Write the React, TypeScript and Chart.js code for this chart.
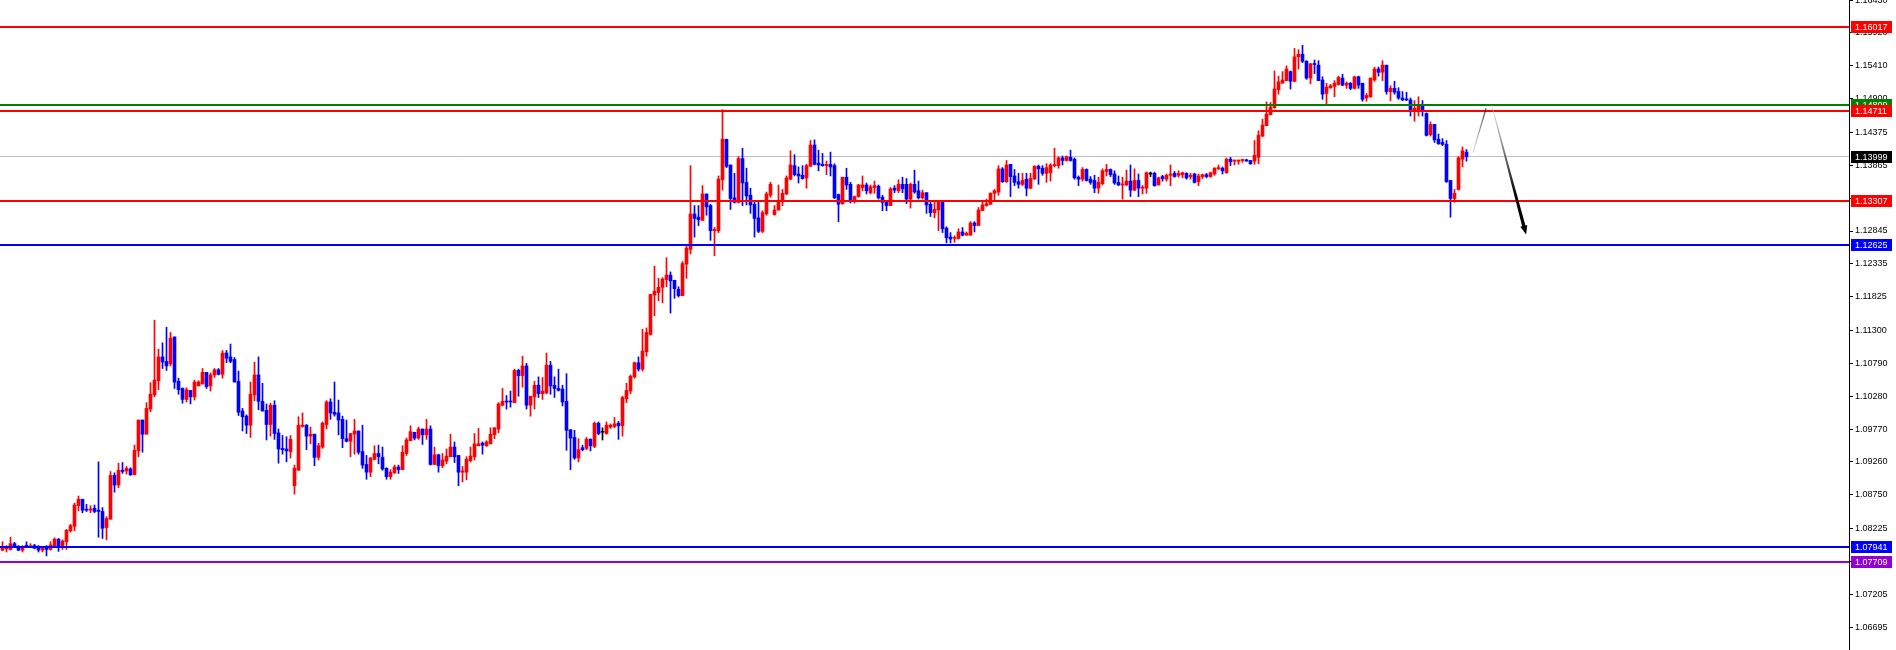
import React, { useEffect, useRef } from "react";
import { Chart, registerables } from "chart.js";

Chart.register(...registerables);

// ---- candle data (EURUSD-like, 367 bars) ----
const opens = [
  1.0789,1.0791,1.0790,1.0799,1.0795,1.0789,1.0796,1.0794,1.0796,1.0795,
  1.0789,1.0795,1.0790,1.0796,1.0806,1.0795,1.0802,1.0819,1.0826,1.0858,
  1.0868,1.0852,1.0851,1.0854,1.0851,1.0849,1.0824,1.0837,1.0905,1.0890,
  1.0913,1.0912,1.0915,1.0906,1.0943,1.0991,1.0969,1.1008,1.1030,1.1052,
  1.1089,1.1082,1.1078,1.1120,1.1051,1.1040,1.1023,1.1037,1.1027,1.1044,
  1.1047,1.1065,1.1044,1.1061,1.1069,1.1062,1.1095,1.1089,1.1085,1.1051,
  1.1005,1.0997,1.0983,1.1030,1.1061,1.1020,1.1006,1.0984,1.1014,1.0971,
  1.0947,1.0946,1.0942,1.0889,1.0913,1.0981,1.0983,1.0966,1.0969,1.0933,
  1.0949,1.0984,1.1019,1.1003,1.1002,1.0992,1.0962,1.0958,1.0969,1.0974,
  1.0942,1.0922,1.0910,1.0930,1.0939,1.0933,1.0916,1.0903,1.0909,1.0918,
  1.0914,1.0939,1.0959,1.0972,1.0963,1.0977,1.0968,1.0977,1.0922,1.0937,
  1.0920,1.0927,1.0934,1.0949,1.0936,1.0910,1.0910,1.0928,1.0934,1.0951,
  1.0955,1.0951,1.0954,1.0968,1.0977,1.1014,1.1020,1.1020,1.1018,1.1068,
  1.1060,1.1075,1.1014,1.1027,1.1045,1.1032,1.1033,1.1076,1.1045,1.1040,
  1.1039,1.1020,1.0976,1.0964,1.0932,1.0948,1.0947,1.0961,1.0950,1.0986,
  1.0972,1.0970,1.0980,1.0981,1.0986,1.0982,1.1024,1.1036,1.1058,1.1080,
  1.1070,1.1097,1.1124,1.1185,1.1189,1.1197,1.1209,1.1216,1.1208,1.1194,
  1.1184,1.1233,1.1256,1.1311,1.1306,1.1301,1.1342,1.1324,1.1285,1.1285,
  1.1364,1.1427,1.1387,1.1336,1.1329,1.1397,1.1360,1.1340,1.1326,1.1305,
  1.1284,1.1311,1.1340,1.1310,1.1317,1.1331,1.1342,1.1365,1.1386,1.1373,
  1.1371,1.1367,1.1385,1.1418,1.1390,1.1388,1.1386,1.1388,1.1386,1.1341,
  1.1327,1.1368,1.1357,1.1330,1.1338,1.1352,1.1356,1.1344,1.1352,1.1354,
  1.1337,1.1329,1.1324,1.1351,1.1347,1.1357,1.1357,1.1334,1.1357,1.1347,
  1.1336,1.1344,1.1326,1.1313,1.1317,1.1329,1.1289,1.1275,1.1273,1.1273,
  1.1283,1.1278,1.1278,1.1297,1.1293,1.1316,1.1324,1.1326,1.1343,1.1345,
  1.1381,1.1361,1.1388,1.1370,1.1361,1.1357,1.1365,1.1351,1.1365,1.1385,
  1.1382,1.1374,1.1375,1.1386,1.1386,1.1398,1.1394,1.1399,1.1396,1.1368,
  1.1365,1.1380,1.1365,1.1363,1.1351,1.1358,1.1377,1.1380,1.1373,1.1360,
  1.1356,1.1356,1.1362,1.1348,1.1363,1.1351,1.1351,1.1373,1.1374,1.1356,
  1.1369,1.1365,1.1371,1.1374,1.1371,1.1372,1.1374,1.1369,1.1373,1.1361,
  1.1369,1.1372,1.1369,1.1373,1.1381,1.1382,1.1375,1.1396,1.1393,1.1393,
  1.1394,1.1395,1.1394,1.1393,1.1399,1.1432,1.1448,1.1465,1.1476,1.1504,
  1.1514,1.1518,1.1532,1.1517,1.1555,1.1559,1.1548,1.1522,1.1544,1.1542,
  1.1519,1.1498,1.1507,1.1509,1.1512,1.1522,1.1511,1.1514,1.1506,1.1524,
  1.1514,1.1491,1.1493,1.1519,1.1536,1.1531,1.1542,1.1501,1.1506,1.1501,
  1.1491,1.1489,1.1488,1.1470,1.1471,1.1479,1.1467,1.1434,1.1450,1.1427,
  1.1422,1.1419,1.1363,1.1335,1.1349,1.1396,1.1407,
];

const highs = [
  1.0802,1.0796,1.0809,1.0801,1.0796,1.0796,1.0802,1.0799,1.0798,1.0796,
  1.0795,1.0796,1.0802,1.0808,1.0807,1.0805,1.0821,1.0829,1.0862,1.0873,
  1.0868,1.0860,1.0858,1.0859,1.0926,1.0855,1.0841,1.0911,1.0909,1.0924,
  1.0925,1.0919,1.0917,1.0952,1.0991,1.0991,1.1018,1.1049,1.1146,1.1101,
  1.1111,1.1135,1.1127,1.1120,1.1056,1.1041,1.1041,1.1037,1.1053,1.1052,
  1.1071,1.1065,1.1064,1.1071,1.1071,1.1099,1.1099,1.1109,1.1088,1.1067,
  1.1009,1.0999,1.1050,1.1081,1.1089,1.1048,1.1016,1.1017,1.1021,1.0977,
  1.0967,1.0965,1.0967,1.0921,1.0996,1.1002,1.0984,1.0980,1.0969,1.0955,
  1.0988,1.1021,1.1024,1.1050,1.1022,1.0997,1.0991,1.0970,1.0992,1.0974,
  1.0983,1.0936,1.0933,1.0951,1.0952,1.0949,1.0917,1.0914,1.0921,1.0921,
  1.0951,1.0963,1.0982,1.0972,1.0980,1.0977,1.0992,1.0982,1.0949,1.0938,
  1.0939,1.0946,1.0969,1.0957,1.0936,1.0919,1.0934,1.0949,1.0970,1.0978,
  1.0957,1.0959,1.0979,1.0979,1.1018,1.1040,1.1029,1.1036,1.1070,1.1070,
  1.1090,1.1079,1.1028,1.1051,1.1058,1.1057,1.1095,1.1082,1.1058,1.1070,
  1.1045,1.1063,1.0976,1.0975,1.0962,1.0952,1.0964,1.0962,1.0988,1.0988,
  1.0979,1.0988,1.0985,1.0995,1.0989,1.1028,1.1048,1.1061,1.1081,1.1089,
  1.1132,1.1134,1.1186,1.1230,1.1211,1.1212,1.1243,1.1221,1.1208,1.1198,
  1.1237,1.1261,1.1386,1.1324,1.1324,1.1355,1.1342,1.1326,1.1290,1.1370,
  1.1473,1.1427,1.1387,1.1374,1.1400,1.1413,1.1382,1.1351,1.1329,1.1329,
  1.1316,1.1345,1.1360,1.1324,1.1356,1.1349,1.1370,1.1409,1.1403,1.1384,
  1.1386,1.1388,1.1425,1.1426,1.1410,1.1405,1.1393,1.1407,1.1389,1.1342,
  1.1368,1.1382,1.1360,1.1339,1.1357,1.1370,1.1359,1.1356,1.1362,1.1356,
  1.1340,1.1331,1.1352,1.1355,1.1364,1.1368,1.1366,1.1359,1.1379,1.1362,
  1.1348,1.1344,1.1329,1.1330,1.1329,1.1330,1.1291,1.1282,1.1277,1.1288,
  1.1290,1.1283,1.1299,1.1299,1.1321,1.1329,1.1334,1.1344,1.1349,1.1386,
  1.1383,1.1394,1.1388,1.1380,1.1374,1.1374,1.1374,1.1374,1.1386,1.1387,
  1.1386,1.1389,1.1389,1.1413,1.1400,1.1401,1.1401,1.1410,1.1398,1.1370,
  1.1383,1.1381,1.1369,1.1371,1.1368,1.1381,1.1388,1.1381,1.1378,1.1370,
  1.1368,1.1379,1.1387,1.1381,1.1373,1.1355,1.1376,1.1376,1.1376,1.1368,
  1.1371,1.1373,1.1387,1.1377,1.1378,1.1376,1.1375,1.1374,1.1374,1.1373,
  1.1373,1.1374,1.1376,1.1383,1.1387,1.1384,1.1398,1.1399,1.1395,1.1395,
  1.1396,1.1396,1.1394,1.1425,1.1440,1.1458,1.1485,1.1484,1.1533,1.1525,
  1.1532,1.1541,1.1533,1.1568,1.1566,1.1573,1.1549,1.1545,1.1550,1.1549,
  1.1524,1.1514,1.1512,1.1518,1.1525,1.1528,1.1516,1.1515,1.1525,1.1525,
  1.1514,1.1498,1.1522,1.1539,1.1539,1.1549,1.1542,1.1510,1.1517,1.1507,
  1.1501,1.1500,1.1491,1.1487,1.1493,1.1487,1.1468,1.1454,1.1450,1.1435,
  1.1428,1.1425,1.1363,1.1349,1.1400,1.1415,1.1411,
];

const lows = [
  1.0788,1.0786,1.0789,1.0793,1.0788,1.0786,1.0793,1.0793,1.0791,1.0786,
  1.0786,1.0780,1.0789,1.0793,1.0787,1.0790,1.0790,1.0817,1.0819,1.0850,
  1.0847,1.0849,1.0847,1.0847,1.0809,1.0807,1.0805,1.0837,1.0879,1.0886,
  1.0908,1.0907,1.0905,1.0906,1.0934,1.0941,1.0969,1.1004,1.1027,1.1038,
  1.1071,1.1068,1.1075,1.1040,1.1031,1.1017,1.1019,1.1016,1.1022,1.1044,
  1.1047,1.1040,1.1036,1.1057,1.1061,1.1056,1.1080,1.1080,1.1050,1.0998,
  1.0974,1.0970,1.0964,1.1021,1.1007,1.1005,1.0960,1.0966,1.0961,1.0924,
  1.0938,1.0926,1.0932,1.0876,1.0913,1.0980,1.0945,1.0954,1.0920,1.0929,
  1.0947,1.0977,1.0992,1.0997,1.0968,1.0948,1.0957,1.0934,1.0938,1.0938,
  1.0916,1.0899,1.0903,1.0929,1.0923,1.0913,1.0899,1.0899,1.0908,1.0908,
  1.0914,1.0936,1.0959,1.0960,1.0961,1.0953,1.0961,1.0921,1.0922,1.0910,
  1.0917,1.0923,1.0934,1.0925,1.0889,1.0895,1.0898,1.0926,1.0929,1.0951,
  1.0938,1.0950,1.0954,1.0962,1.0971,1.1013,1.1008,1.1011,1.1018,1.1028,
  1.1042,1.1008,1.0997,1.1008,1.1026,1.1023,1.1032,1.1031,1.1026,1.1036,
  1.1013,1.0944,1.0914,1.0930,1.0926,1.0943,1.0945,1.0943,1.0948,1.0968,
  1.0960,1.0969,1.0978,1.0979,1.0961,1.0966,1.1018,1.1032,1.1056,1.1067,
  1.1067,1.1090,1.1123,1.1153,1.1176,1.1173,1.1198,1.1157,1.1180,1.1182,
  1.1184,1.1211,1.1249,1.1275,1.1293,1.1301,1.1309,1.1270,1.1246,1.1282,
  1.1348,1.1383,1.1318,1.1328,1.1328,1.1324,1.1325,1.1312,1.1275,1.1282,
  1.1282,1.1309,1.1337,1.1309,1.1317,1.1324,1.1341,1.1364,1.1370,1.1359,
  1.1365,1.1351,1.1385,1.1387,1.1378,1.1385,1.1372,1.1370,1.1335,1.1299,
  1.1326,1.1349,1.1328,1.1328,1.1337,1.1347,1.1342,1.1342,1.1343,1.1334,
  1.1316,1.1316,1.1324,1.1344,1.1344,1.1344,1.1327,1.1320,1.1343,1.1334,
  1.1334,1.1312,1.1307,1.1305,1.1285,1.1282,1.1266,1.1266,1.1267,1.1272,
  1.1277,1.1278,1.1278,1.1283,1.1293,1.1316,1.1323,1.1326,1.1333,1.1340,
  1.1360,1.1360,1.1338,1.1355,1.1351,1.1355,1.1339,1.1350,1.1365,1.1357,
  1.1371,1.1360,1.1362,1.1384,1.1382,1.1387,1.1393,1.1393,1.1365,1.1355,
  1.1362,1.1362,1.1357,1.1344,1.1343,1.1356,1.1370,1.1369,1.1357,1.1355,
  1.1334,1.1355,1.1338,1.1347,1.1338,1.1342,1.1343,1.1369,1.1354,1.1356,
  1.1362,1.1362,1.1355,1.1368,1.1368,1.1367,1.1365,1.1365,1.1359,1.1355,
  1.1366,1.1367,1.1368,1.1371,1.1380,1.1373,1.1374,1.1386,1.1387,1.1388,
  1.1391,1.1393,1.1388,1.1388,1.1389,1.1431,1.1448,1.1465,1.1475,1.1497,
  1.1514,1.1518,1.1505,1.1516,1.1536,1.1546,1.1520,1.1513,1.1529,1.1518,
  1.1489,1.1480,1.1506,1.1493,1.1511,1.1510,1.1506,1.1504,1.1505,1.1506,
  1.1486,1.1486,1.1492,1.1517,1.1525,1.1518,1.1497,1.1487,1.1497,1.1489,
  1.1487,1.1487,1.1463,1.1455,1.1463,1.1463,1.1432,1.1432,1.1422,1.1419,
  1.1417,1.1360,1.1306,1.1329,1.1348,1.1384,1.1393,
];

const closes = [
  1.0793,1.0793,1.0799,1.0795,1.0789,1.0794,1.0795,1.0795,1.0792,1.0789,
  1.0793,1.0790,1.0797,1.0806,1.0795,1.0803,1.0820,1.0827,1.0859,1.0868,
  1.0851,1.0851,1.0853,1.0849,1.0849,1.0823,1.0838,1.0905,1.0890,1.0913,
  1.0911,1.0916,1.0906,1.0944,1.0991,1.0969,1.1009,1.1031,1.1053,1.1089,
  1.1081,1.1075,1.1118,1.1050,1.1038,1.1023,1.1038,1.1027,1.1050,1.1050,
  1.1065,1.1043,1.1061,1.1069,1.1062,1.1095,1.1087,1.1082,1.1050,1.1003,
  1.0996,1.0983,1.1031,1.1061,1.1020,1.1005,1.0984,1.1014,1.0970,1.0946,
  1.0945,1.0943,1.0961,1.0916,1.0983,1.0983,1.0966,1.0969,1.0933,1.0951,
  1.0986,1.1019,1.1002,1.1000,1.0991,1.0962,1.0958,1.0970,1.0974,1.0941,
  1.0921,1.0910,1.0932,1.0939,1.0934,1.0915,1.0903,1.0910,1.0918,1.0914,
  1.0941,1.0960,1.0973,1.0963,1.0977,1.0968,1.0977,1.0922,1.0937,1.0920,
  1.0929,1.0935,1.0949,1.0934,1.0910,1.0912,1.0930,1.0935,1.0954,1.0954,
  1.0952,1.0957,1.0969,1.0979,1.1016,1.1020,1.1019,1.1019,1.1068,1.1060,
  1.1075,1.1014,1.1028,1.1045,1.1032,1.1036,1.1076,1.1044,1.1040,1.1037,
  1.1019,1.0975,1.0963,1.0932,1.0945,1.0945,1.0961,1.0951,1.0986,1.0970,
  1.0972,1.0983,1.0983,1.0985,1.0982,1.1026,1.1037,1.1059,1.1080,1.1070,
  1.1098,1.1127,1.1186,1.1191,1.1197,1.1210,1.1216,1.1207,1.1195,1.1184,
  1.1234,1.1258,1.1311,1.1304,1.1302,1.1342,1.1322,1.1285,1.1287,1.1365,
  1.1427,1.1385,1.1335,1.1329,1.1397,1.1359,1.1339,1.1325,1.1304,1.1284,
  1.1313,1.1342,1.1357,1.1317,1.1331,1.1343,1.1367,1.1387,1.1372,1.1370,
  1.1366,1.1386,1.1418,1.1388,1.1387,1.1386,1.1388,1.1384,1.1336,1.1326,
  1.1368,1.1356,1.1330,1.1338,1.1356,1.1356,1.1347,1.1353,1.1355,1.1336,
  1.1329,1.1324,1.1350,1.1348,1.1357,1.1350,1.1334,1.1357,1.1345,1.1336,
  1.1344,1.1325,1.1313,1.1318,1.1329,1.1288,1.1274,1.1272,1.1274,1.1283,
  1.1278,1.1281,1.1297,1.1293,1.1317,1.1325,1.1327,1.1343,1.1347,1.1381,
  1.1361,1.1387,1.1369,1.1360,1.1357,1.1363,1.1351,1.1366,1.1385,1.1381,
  1.1374,1.1383,1.1387,1.1387,1.1398,1.1394,1.1400,1.1394,1.1367,1.1365,
  1.1380,1.1363,1.1360,1.1351,1.1360,1.1378,1.1380,1.1372,1.1359,1.1356,
  1.1357,1.1362,1.1348,1.1363,1.1351,1.1352,1.1375,1.1373,1.1355,1.1367,
  1.1366,1.1371,1.1373,1.1369,1.1374,1.1375,1.1367,1.1371,1.1360,1.1370,
  1.1372,1.1369,1.1375,1.1382,1.1383,1.1378,1.1396,1.1392,1.1394,1.1394,
  1.1395,1.1393,1.1389,1.1402,1.1433,1.1449,1.1466,1.1477,1.1505,1.1516,
  1.1519,1.1536,1.1517,1.1555,1.1559,1.1548,1.1522,1.1544,1.1543,1.1518,
  1.1497,1.1508,1.1510,1.1514,1.1523,1.1511,1.1514,1.1506,1.1524,1.1511,
  1.1489,1.1495,1.1522,1.1536,1.1531,1.1542,1.1501,1.1506,1.1500,1.1491,
  1.1488,1.1488,1.1470,1.1475,1.1479,1.1471,1.1433,1.1450,1.1426,1.1420,
  1.1419,1.1361,1.1335,1.1343,1.1398,1.1409,1.13999,
];

// ---- price axis ----
const yTickValues = [
  1.16430, 1.15920, 1.15410, 1.14900, 1.14375, 1.13865, 1.13355, 1.12845,
  1.12335, 1.11825, 1.11300, 1.10790, 1.10280, 1.09770, 1.09260, 1.08750,
  1.08225, 1.07715, 1.07205, 1.06695,
];
const yMin = 1.06339;
const yMax = 1.16432;
const xMin = -0.625;
const xMax = 461.625;

// ---- horizontal levels ----
const levelPrices = [1.13999, 1.16017, 1.14809, 1.14711, 1.13307, 1.12625, 1.07941, 1.07709];
const levelColors = ["#c0c0c0", "#ff0000", "#008000", "#ff0000", "#ff0000", "#0000ff", "#0000ff", "#9400d3"];
const levelLineWidths = [1, 2, 2, 2, 2, 2, 2, 2];
const levelLabelColors = ["#000000", "#ff0000", "#008000", "#ff0000", "#ff0000", "#0000ff", "#0000ff", "#9400d3"];

// ---- projection arrow (bar index, price) ----
const arrowUpLeg = [
  { x: 367.6, y: 1.1406 },
  { x: 370.9, y: 1.1475 },
];
const arrowDownLeg = [
  { x: 372.3, y: 1.1480 },
  { x: 380.9, y: 1.1279 },
];

const UP_COLOR = "#ff0000";
const DOWN_COLOR = "#0000ff";
const DOJI_COLOR = "#000000";
const AXIS_FONT = "Liberation Sans";
const AXIS_FONT_SIZE = 9;

export default function App() {
  const ref = useRef<HTMLCanvasElement | null>(null);

  useEffect(() => {
    document.body.style.margin = "0";
    document.body.style.overflow = "hidden";
    document.body.style.background = "#ffffff";
    const canvas = ref.current;
    if (!canvas) return;

    const idx = opens.map((_, i) => i);
    const colors = idx.map((i) =>
      closes[i] > opens[i] ? UP_COLOR : closes[i] < opens[i] ? DOWN_COLOR : DOJI_COLOR
    );

    const overlay = {
      id: "overlay",
      beforeDatasetsDraw(chart: any) {
        const { ctx, chartArea, scales } = chart;
        const y = scales.y;
        ctx.save();
        // bid line (behind candles)
        const py = Math.floor(y.getPixelForValue(levelPrices[0])) + 0.5;
        ctx.strokeStyle = levelColors[0];
        ctx.lineWidth = levelLineWidths[0];
        ctx.beginPath();
        ctx.moveTo(chartArea.left, py);
        ctx.lineTo(chartArea.right, py);
        ctx.stroke();
        ctx.restore();
      },
      afterDatasetsDraw(chart: any) {
        const { ctx, chartArea, scales } = chart;
        const x = scales.x;
        const y = scales.y;
        ctx.save();
        for (let k = 1; k < levelPrices.length; k++) {
          const py = Math.round(y.getPixelForValue(levelPrices[k]));
          ctx.fillStyle = levelColors[k];
          ctx.fillRect(chartArea.left, py - levelLineWidths[k] / 2, chartArea.right - chartArea.left, levelLineWidths[k]);
        }
        // up leg of projection
        const a0x = x.getPixelForValue(arrowUpLeg[0].x);
        const a0y = y.getPixelForValue(arrowUpLeg[0].y);
        const a1x = x.getPixelForValue(arrowUpLeg[1].x);
        const a1y = y.getPixelForValue(arrowUpLeg[1].y);
        let g = ctx.createLinearGradient(a0x, a0y, a1x, a1y);
        g.addColorStop(0, "rgba(150,150,150,0.25)");
        g.addColorStop(1, "rgba(40,40,40,0.95)");
        ctx.strokeStyle = g;
        ctx.lineWidth = 1.2;
        ctx.beginPath();
        ctx.moveTo(a0x, a0y);
        ctx.lineTo(a1x, a1y);
        ctx.stroke();
        // down leg (tapered)
        const b0x = x.getPixelForValue(arrowDownLeg[0].x);
        const b0y = y.getPixelForValue(arrowDownLeg[0].y);
        const b1x = x.getPixelForValue(arrowDownLeg[1].x);
        const b1y = y.getPixelForValue(arrowDownLeg[1].y);
        const dx = b1x - b0x;
        const dy = b1y - b0y;
        const len = Math.hypot(dx, dy);
        const ux = dx / len;
        const uy = dy / len;
        const nx = -uy;
        const ny = ux;
        const headLen = 9;
        const hx = b1x - ux * headLen;
        const hy = b1y - uy * headLen;
        g = ctx.createLinearGradient(b0x, b0y, b1x, b1y);
        g.addColorStop(0, "rgba(200,200,200,0.5)");
        g.addColorStop(0.35, "rgba(110,110,110,0.9)");
        g.addColorStop(0.7, "rgba(0,0,0,1)");
        g.addColorStop(1, "rgba(0,0,0,1)");
        ctx.fillStyle = g;
        ctx.beginPath();
        ctx.moveTo(b0x + nx * 0.4, b0y + ny * 0.4);
        ctx.lineTo(hx + nx * 1.7, hy + ny * 1.7);
        ctx.lineTo(hx + nx * 3.6, hy + ny * 3.6);
        ctx.lineTo(b1x, b1y);
        ctx.lineTo(hx - nx * 3.6, hy - ny * 3.6);
        ctx.lineTo(hx - nx * 1.7, hy - ny * 1.7);
        ctx.lineTo(b0x - nx * 0.4, b0y - ny * 0.4);
        ctx.closePath();
        ctx.fill();
        ctx.restore();
      },
      afterDraw(chart: any) {
        const { ctx, chartArea, scales } = chart;
        const y = scales.y;
        ctx.save();
        ctx.font = `${AXIS_FONT_SIZE}px "${AXIS_FONT}"`;
        ctx.textBaseline = "middle";
        ctx.textAlign = "left";
        const order = [1, 2, 3, 0, 4, 5, 6, 7];
        for (const k of order) {
          const py = Math.round(y.getPixelForValue(levelPrices[k]));
          ctx.fillStyle = levelLabelColors[k];
          ctx.fillRect(chartArea.right + 2, py - 6, 41, 12);
          ctx.fillStyle = "#ffffff";
          ctx.fillText(levelPrices[k].toFixed(5), chartArea.right + 6, py + 0.5);
        }
        ctx.restore();
      },
    };

    const chart = new Chart(canvas, {
      type: "bar",
      data: {
        datasets: [
          {
            label: "wicks",
            data: idx.map((i) => ({ x: i, y: [lows[i], highs[i]] })) as any,
            backgroundColor: colors,
            barThickness: 1,
            grouped: false,
            order: 2,
          } as any,
          {
            label: "bodies",
            data: idx.map((i) => ({ x: i, y: [opens[i], closes[i]] })) as any,
            backgroundColor: colors,
            barThickness: 3,
            minBarLength: 1,
            grouped: false,
            order: 1,
          } as any,
        ],
      },
      options: {
        animation: false,
        responsive: false,
        devicePixelRatio: 1,
        layout: { padding: 0 },
        plugins: {
          legend: { display: false },
          tooltip: { enabled: false },
          title: { display: false },
        },
        scales: {
          x: {
            type: "linear",
            min: xMin,
            max: xMax,
            display: false,
            offset: false,
          },
          y: {
            position: "right",
            min: yMin,
            max: yMax,
            beginAtZero: false,
            afterBuildTicks: (s: any) => {
              s.ticks = yTickValues.map((v) => ({ value: v }));
            },
            afterFit: (s: any) => {
              s.width = 47;
              s.paddingTop = 0;
              s.paddingBottom = 0;
            },
            border: { display: true, color: "#000000", width: 1 },
            grid: {
              display: true,
              drawOnChartArea: false,
              drawTicks: true,
              tickLength: 4,
              color: "#000000",
              tickColor: "#000000",
            },
            ticks: {
              autoSkip: false,
              padding: 2,
              color: "#000000",
              font: { family: AXIS_FONT, size: AXIS_FONT_SIZE },
              callback: (v: any) => Number(v).toFixed(5),
            },
          } as any,
        },
      },
      plugins: [overlay],
    });

    return () => chart.destroy();
  }, []);

  return (
    <div style={{ width: 1896, height: 650, background: "#ffffff" }}>
      <canvas ref={ref} width={1896} height={650} style={{ display: "block", width: 1896, height: 650 }} />
    </div>
  );
}
